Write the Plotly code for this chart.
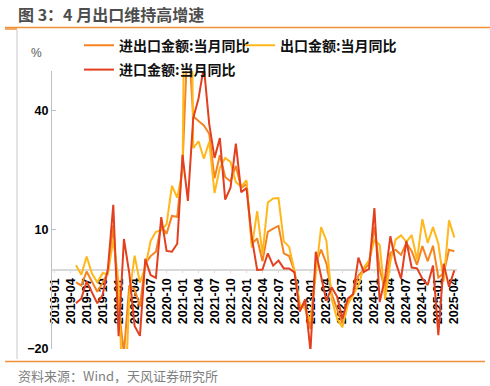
import plotly.graph_objects as go
import pandas as pd

months = [d.strftime("%Y-%m") for d in pd.date_range("2019-01-01", "2025-04-01", freq="MS")]
tick_labels = months[::3]

# 进出口金额:当月同比 (total trade)
total = [None, None, None, None, -3.2, -4.0, -0.5, -3.0, -5.6, -3.4, -0.6, 11.2,
         -9.5, -21.0, -4.0, -5.0, -9.3, 1.5, 3.4, 4.5, 11.0, 9.0, 13.5, 13.3,
         26.5, 60.0, 38.6, 37.4, 36.3, 34.2, 23.0, 28.8, 23.3, 22.2, 26.1, 20.6,
         21.5, 6.5, 7.8, 2.1, 9.5, 10.3, 11.0, 4.1, 3.4, -0.4, -9.5, -8.8,
         -15.0, 1.5, 5.0, 1.5, -6.2, -10.0, -13.6, -8.2, -6.2, -1.5, 0.0, 1.4,
         10.8, 0.0, -5.0, 4.2, 5.0, 3.7, 6.7, 4.6, 1.2, 5.9, 2.1, 6.0,
         -2.0, -1.0, 5.0, 4.6]
# 出口金额:当月同比 (exports)
exports = [None, None, None, None, 1.1, -1.3, 3.3, -1.0, -3.2, -0.9, -1.1, 7.6,
           -3.3, -40.6, -6.6, 3.5, -3.3, 0.5, 7.2, 9.5, 9.9, 11.4, 21.1, 18.1,
           24.9, 154.9, 30.6, 32.3, 27.9, 32.2, 19.3, 25.6, 28.1, 27.1, 22.0, 20.9,
           22.5, 5.5, 14.7, 3.9, 16.9, 17.9, 18.0, 7.1, 5.7, -0.3, -8.7, -9.9,
           -13.0, -1.0, 10.7, 7.2, -7.5, -12.4, -14.5, -8.8, -6.2, -4.0, 0.5, 2.3,
           7.5, 6.2, -7.5, 2.0, 7.6, 8.6, 7.0, 8.7, 2.4, 12.7, 6.7, 10.7,
           6.5, -3.0, 12.4, 8.1]
# 进口金额:当月同比 (imports)
imports = [None, None, None, None, -8.5, -7.3, -3.0, -5.6, -8.5, -6.4, 0.3, 16.3,
           -16.8, 7.7, -0.9, -14.2, -16.7, 2.7, -1.4, -2.1, 13.2, 4.7, 4.5, 6.5,
           28.9, 17.3, 38.1, 43.1, 51.1, 36.7, 28.1, 33.1, 17.6, 20.6, 31.7, 19.5,
           20.5, 8.0, -0.1, 0.0, 4.1, 1.0, 2.3, 0.3, 0.3, -0.7, -10.6, -7.5,
           -20.5, 4.5, -1.4, -7.9, -4.5, -6.8, -12.4, -7.3, -6.2, 3.0, -0.6, 0.2,
           15.5, -8.2, -2.0, 8.4, 1.8, -2.3, 7.2, 0.5, 0.3, -2.3, -3.9, 1.0,
           -16.5, 1.5, -4.3, -0.2]

names = ["进出口金额:当月同比", "出口金额:当月同比", "进口金额:当月同比"]
colors = ["#F5841F", "#FFB71B", "#E2401E"]

W, H = 490, 386
L, R, T, B = 52, 33, 71, 37
PW, PH = W - L - R, H - T - B
def px(x):
    return (x - L) / PW
def py(y):
    return (H - B - y) / PH

CJK = "Noto Sans CJK SC"

fig = go.Figure()
for vals, name, col, lg in zip([total, exports, imports], names, colors, ["legend", "legend3", "legend2"]):
    fig.add_trace(go.Scatter(x=months, y=vals, name=name, mode="lines",
                             line=dict(color=col, width=2), legend=lg,
                             connectgaps=False))

legend_font = dict(family=CJK, size=14, color="#111111", weight="bold")
def leg(xp, yp):
    return dict(orientation="h", x=px(xp), xanchor="left", y=py(yp), yanchor="middle",
                font=legend_font, itemwidth=30, bgcolor="rgba(0,0,0,0)")

ymin, ymax = -20, 50
fig.update_layout(
    width=W, height=H,
    margin=dict(l=L, r=R, t=T, b=B, autoexpand=False),
    paper_bgcolor="white", plot_bgcolor="white",
    showlegend=True,
    legend=leg(79, 45.7),
    legend3=leg(240, 45.7),
    legend2=leg(79, 70),
    xaxis=dict(type="category", range=[-0.5, len(months) - 0.5],
               anchor="free", position=(0 - ymin) / (ymax - ymin),
               showline=True, linecolor="#d9d9d9", linewidth=1.5,
               ticks="outside", ticklen=3, tickcolor="#d9d9d9",
               tickmode="array", tickvals=tick_labels, ticktext=tick_labels,
               tickangle=-90, showgrid=False, zeroline=False, layer="below traces",
               tickfont=dict(family="Liberation Sans", size=12.5, color="#000000", weight="bold")),
    yaxis=dict(range=[ymin, ymax], tick0=-20, dtick=30, showgrid=False, zeroline=False,
               showline=True, linecolor="#bfbfbf", linewidth=1,
               ticks="inside", ticklen=4, tickcolor="#bfbfbf",
               tickfont=dict(family="Liberation Sans", size=12.5, color="#000000", weight="bold")),
)

fig.add_annotation(text="图 3：4 月出口维持高增速", xref="paper", yref="paper",
                   x=px(16), y=py(14.5), xanchor="left", yanchor="middle", showarrow=False,
                   font=dict(family=CJK, size=16, color="#4d4d4d", weight="bold"))
fig.add_annotation(text="%", xref="paper", yref="paper", x=px(36.5), y=py(53), xanchor="center",
                   yanchor="middle", showarrow=False,
                   font=dict(family="Liberation Sans", size=12, color="#595959"))
fig.add_annotation(text="资料来源：Wind，天风证券研究所", xref="paper", yref="paper",
                   x=px(16), y=py(375), xanchor="left", yanchor="middle", showarrow=False,
                   font=dict(family=CJK, size=13, color="#7f7f7f"))

fig.add_shape(type="line", xref="paper", yref="paper", x0=px(5), x1=px(490), y0=py(27.5), y1=py(27.5),
              line=dict(color="#F0913A", width=1.5))
fig.add_shape(type="line", xref="paper", yref="paper", x0=px(5), x1=px(17), y0=py(29), y1=py(29),
              line=dict(color="#F0913A", width=1.5))
fig.add_shape(type="line", xref="paper", yref="paper", x0=px(17), x1=px(17), y0=py(30), y1=py(359),
              line=dict(color="#c8c8c8", width=1))
fig.add_shape(type="line", xref="paper", yref="paper", x0=px(5), x1=px(485), y0=py(361.5), y1=py(361.5),
              line=dict(color="#F0913A", width=1.5))

fig.write_html("out.html", config={"displayModeBar": False},
               post_script="document.body.style.margin='0';document.body.style.padding='0';")
